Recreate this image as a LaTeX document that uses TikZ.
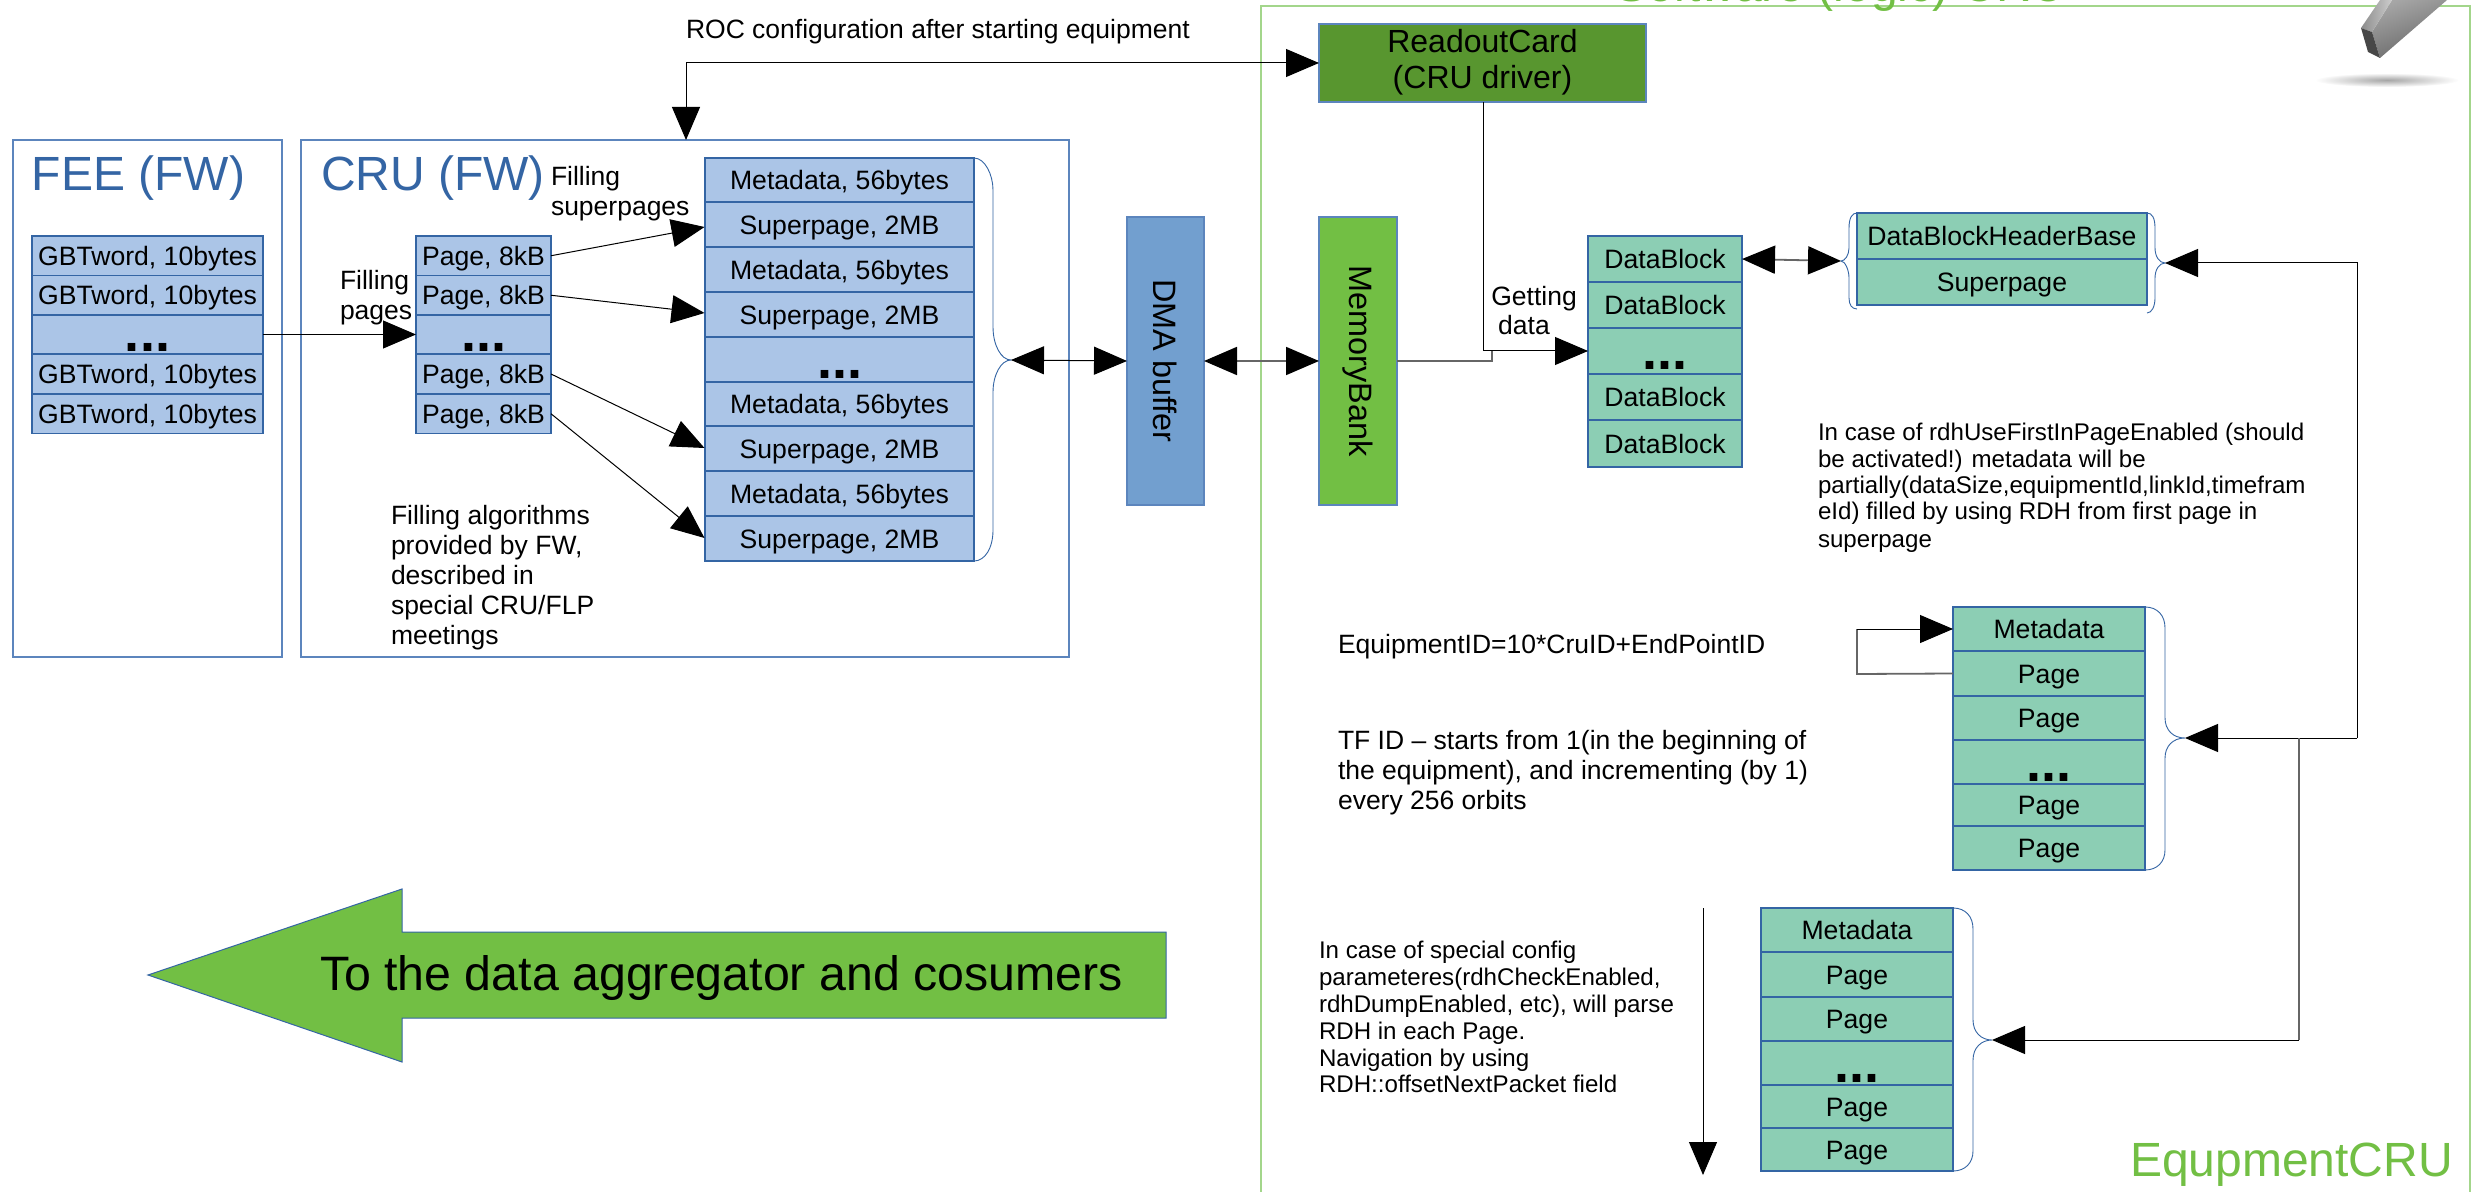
\documentclass[tikz,border=0pt]{standalone}
\usepackage{fontspec}
\setmainfont{Liberation Sans}
\usetikzlibrary{arrows.meta,calc,shapes.geometric}
\definecolor{lineblue}{HTML}{3465A4}
\definecolor{titleblue}{HTML}{3465A4}
\definecolor{fillblue}{HTML}{ABC5E7}
\definecolor{dmablue}{HTML}{729FCF}
\definecolor{frameblue}{HTML}{5C85BD}
\definecolor{limeg}{HTML}{72BF44}
\definecolor{darkg}{HTML}{58962F}
\definecolor{teal2}{HTML}{8CCEB4}
\definecolor{framegreen}{HTML}{A3D68B}
\newcommand{\fsz}[1]{\fontsize{#1}{#1}\selectfont}
\tikzset{
  x=0.5pt,y=-0.5pt,
  every node/.style={inner sep=0pt,outer sep=0pt,text=black},
  bl/.style={rectangle,draw=lineblue,minimum width=#1*0.5pt,align=center,text height=9.6pt,text depth=0pt},
  rowblue/.style={bl=#1,line width=0.55pt,fill=fillblue,font=\fsz{13.3}},
  rowblueT/.style={bl=#1,line width=1pt,fill=fillblue,font=\fsz{13.3}},
  rowteal/.style={bl=#1,line width=0.55pt,fill=teal2,font=\fsz{13.3}},
  rowtealT/.style={bl=#1,line width=1pt,fill=teal2,font=\fsz{13.3}},
  lbl/.style={anchor=base west,font=\fsz{13.25},align=left},
  small/.style={lbl,font=\fsz{12.05}},
  dotstxt/.style={anchor=base,font=\fsz{27}\bfseries},
  brace/.style={draw=lineblue,line width=0.45pt},
  conn/.style={draw=black,line width=0.5pt},
  conng/.style={draw=black!60,line width=0.9pt},
  tip/.style={-{Triangle[length=16.5pt,width=14pt,black]}},
  tips/.style={{Triangle[length=16.5pt,width=14pt,black]}-{Triangle[length=16.5pt,width=14pt,black]}},
  titl/.style={anchor=base west,text=titleblue,font=\fsz{24}},
}
% row: name, center x, top y, bottom y, width, style, text
\newcommand{\rowbox}[7]{\node[#6=#5,minimum height={(#4-#3)*0.5pt}] (#1) at (#2,{(#3+#4)/2}) {#7};}
\begin{document}
\begin{tikzpicture}
\useasboundingbox (0,0) rectangle (2472,1192);
\clip (0,0) rectangle (2472,1192);
\fill[white] (0,0) rectangle (2472,1192);

% frames
\node[draw=frameblue,line width=0.6pt,minimum width=134.5pt,minimum height=258.5pt,anchor=north west] (fee) at (13,140) {};
\node[draw=frameblue,line width=0.6pt,minimum width=384pt,minimum height=258.5pt,anchor=north west] (cru) at (301,140) {};
\node[draw=framegreen,line width=0.7pt,minimum width=604.5pt,minimum height=620pt,anchor=north west] (eq) at (1261,6) {};
\node[anchor=base west,text=limeg,font=\fsz{24}] (eqtop) at (1615,2) {Software (logic) CRU};
\node[anchor=base west,text=limeg,font=\fsz{24}] (eqname) at (2130,1176) {EqupmentCRU};

% pencil
\shade[left color=black!35,right color=black!60,shading angle=20] (2380,58) -- (2372,32) -- (2392,0) -- (2447,0) -- cycle;
\shade[left color=black!45,right color=black!20] (2372,32) -- (2361,28) -- (2380,0) -- (2392,0) -- cycle;
\fill[black!72] (2380,58) -- (2372,32) -- (2361,28) -- (2368,52) -- cycle;
\shade[inner color=black!35,outer color=white] (2387,80) ellipse (72 and 7);

\node[titl] (feet) at (32,191) {FEE (FW)};
\node[titl] (crut) at (321,191) {CRU (FW)};

% GBT stack
\rowbox{g1}{147.5}{236}{275.5}{231}{rowblue}{GBTword, 10bytes}
\rowbox{g2}{147.5}{275.5}{315}{231}{rowblue}{GBTword, 10bytes}
\rowbox{g3}{147.5}{315}{354}{231}{rowblue}{}
\rowbox{g4}{147.5}{354}{394}{231}{rowblue}{GBTword, 10bytes}
\rowbox{g5}{147.5}{394}{433.5}{231}{rowblue}{GBTword, 10bytes}
\node[dotstxt] (gd) at (147.5,352) {...};

% Page stack
\rowbox{p1}{483.5}{236}{275.5}{135}{rowblue}{Page, 8kB}
\rowbox{p2}{483.5}{275.5}{315}{135}{rowblue}{Page, 8kB}
\rowbox{p3}{483.5}{315}{354}{135}{rowblue}{}
\rowbox{p4}{483.5}{354}{394}{135}{rowblue}{Page, 8kB}
\rowbox{p5}{483.5}{394}{433.5}{135}{rowblue}{Page, 8kB}
\node[dotstxt] (pd) at (483.5,352) {...};

% Super stack
\rowbox{s1}{839.5}{158}{202}{269}{rowblueT}{Metadata, 56bytes}
\rowbox{s2}{839.5}{202}{247}{269}{rowblueT}{Superpage, 2MB}
\rowbox{s3}{839.5}{247}{292}{269}{rowblueT}{Metadata, 56bytes}
\rowbox{s4}{839.5}{292}{337}{269}{rowblueT}{Superpage, 2MB}
\rowbox{s5}{839.5}{337}{382}{269}{rowblueT}{}
\rowbox{s6}{839.5}{382}{426}{269}{rowblueT}{Metadata, 56bytes}
\rowbox{s7}{839.5}{426}{471}{269}{rowblueT}{Superpage, 2MB}
\rowbox{s8}{839.5}{471}{516}{269}{rowblueT}{Metadata, 56bytes}
\rowbox{s9}{839.5}{516}{561}{269}{rowblueT}{Superpage, 2MB}
\node[dotstxt] (sd) at (839.5,379) {...};

% DMA, memory, readout
\node[draw=frameblue,line width=0.6pt,fill=dmablue,minimum width=38.5pt,minimum height=144pt] (dma) at (1165.5,361) {};
\node[rotate=-90,font=\fsz{16.2}] (dmat) at (1165.5,361) {DMA buffer};
\node[draw=frameblue,line width=0.6pt,fill=limeg,minimum width=39pt,minimum height=144pt] (mem) at (1358,361) {};
\node[rotate=-90,font=\fsz{16.2}] (memt) at (1358,361) {MemoryBank};
\node[draw=frameblue,line width=0.6pt,fill=darkg,minimum width=163.5pt,minimum height=39pt] (roc) at (1482.5,63) {};
\node[font=\fsz{16},anchor=base] (roc1) at (1482.5,53) {ReadoutCard};
\node[font=\fsz{16},anchor=base] (roc2) at (1482.5,89) {(CRU driver)};

% DataBlock stack
\rowbox{d1}{1665}{236}{282}{154}{rowteal}{DataBlock}
\rowbox{d2}{1665}{282}{328}{154}{rowteal}{DataBlock}
\rowbox{d3}{1665}{328}{374}{154}{rowteal}{}
\rowbox{d4}{1665}{374}{420}{154}{rowteal}{DataBlock}
\rowbox{d5}{1665}{420}{467}{154}{rowteal}{DataBlock}
\node[dotstxt] (dd) at (1665,370) {...};

% Header
\rowbox{h1}{2002}{213}{259}{290}{rowteal}{DataBlockHeaderBase}
\rowbox{h2}{2002}{259}{305}{290}{rowteal}{Superpage}

% Meta stack 1
\rowbox{ma}{2049}{607}{651}{192}{rowtealT}{Metadata}
\rowbox{mb}{2049}{651}{696}{192}{rowtealT}{Page}
\rowbox{mc}{2049}{696}{740}{192}{rowtealT}{Page}
\rowbox{md}{2049}{740}{784}{192}{rowtealT}{}
\rowbox{me}{2049}{784}{826}{192}{rowtealT}{Page}
\rowbox{mf}{2049}{826}{870}{192}{rowtealT}{Page}
\node[dotstxt] (mdd) at (2049,781) {...};

% Meta stack 2
\rowbox{na}{1857}{908}{952}{192}{rowtealT}{Metadata}
\rowbox{nb}{1857}{952}{997}{192}{rowtealT}{Page}
\rowbox{nc}{1857}{997}{1041}{192}{rowtealT}{Page}
\rowbox{nd}{1857}{1041}{1085}{192}{rowtealT}{}
\rowbox{ne}{1857}{1085}{1128}{192}{rowtealT}{Page}
\rowbox{nf}{1857}{1128}{1171}{192}{rowtealT}{Page}
\node[dotstxt] (ndd) at (1857,1082) {...};

% braces
\coordinate (btS) at (1011,360);
\draw[brace] (s1.north east) .. controls (985,158) and (993,175) .. (993,190) -- (993,327) .. controls (993,345) and (1001,360) .. (btS) .. controls (1001,360) and (993,375) .. (993,392) -- (993,530) .. controls (993,548) and (985,561) .. (s9.south east);
\coordinate (btL) at (1841,261);
\draw[brace] (1857,213) .. controls (1852,213) and (1849,218) .. (1849,228) -- (1849,248) .. controls (1849,255) and (1845,261) .. (btL) .. controls (1845,261) and (1849,270) .. (1849,278) -- (1849,298) .. controls (1849,305) and (1852,309) .. (1857,309);
\coordinate (btR) at (2165,263);
\draw[brace] (2147,213) .. controls (2152,213) and (2155,218) .. (2155,228) -- (2155,248) .. controls (2155,256) and (2159,263) .. (btR) .. controls (2159,263) and (2155,270) .. (2155,278) -- (2155,298) .. controls (2155,306) and (2152,313) .. (2147,313);
\coordinate (btM) at (2185,738);
\draw[brace] (ma.north east) .. controls (2157,607) and (2165,615) .. (2165,628) -- (2165,718) .. controls (2165,730) and (2173,738) .. (btM) .. controls (2173,738) and (2165,746) .. (2165,758) -- (2165,850) .. controls (2165,862) and (2157,870) .. (mf.south east);
\coordinate (btN) at (1992,1040);
\draw[brace] (na.north east) .. controls (1965,908) and (1973,916) .. (1973,929) -- (1973,1020) .. controls (1973,1032) and (1981,1040) .. (btN) .. controls (1981,1040) and (1973,1048) .. (1973,1060) -- (1973,1151) .. controls (1973,1163) and (1965,1171) .. (nf.south east);

% connectors
\draw[conn,tip] (g3.east) -- (p3.west);
\draw[conn,tip] (p1.east) -- (704.5,227);
\draw[conn,tip] (p2.east) -- (704.5,313);
\draw[conn,tip] (p4.east) -- (704.5,448);
\draw[conn,tip] (p5.east) -- (704.5,538);
\draw[conn,tips] (btS) -- (dma.west);
\draw[conng,tips] (dma.east) -- (mem.west);
\coordinate (rocTurn) at (686,63);
\draw[conn,tips] (686,140) -- (rocTurn) -- (roc.west);
\coordinate (j1) at (1492,361);
\coordinate (j2) at (1492,351);
\draw[conng] (mem.east) -- (j1) -- (j2);
\draw[conn,tip] (roc.south) ++(0.5,0) -- (1483,351) -- (1588,351);
\draw[conng,tips] (d1.east) -- (btL);
\coordinate (v1) at (2357,263);
\coordinate (v2) at (2357,738);
\draw[conn,tip] (v2) -- (v1) -- (btR);
\draw[conn,tip] (v2) -- (btM);
\coordinate (w1) at (2299,738);
\coordinate (w2) at (2299,1040);
\draw[conng] (w1) -- (w2);
\draw[conn,tip] (w2) -- (btN);
\coordinate (lp1) at (1857,674);
\coordinate (lp2) at (1857,629);
\draw[conng] (mb.west) -- (lp1) -- (lp2);
\draw[conn,tip] (lp2) -- (ma.west);
\coordinate (dn1) at (1703,908);
\coordinate (dn2) at (1703,1175);
\draw[conn,tip] (dn1) -- (dn2);

% big arrow
\draw[draw=lineblue,line width=0.5pt,fill=limeg] (148,975) -- (402,889) -- (402,932) -- (1166,932) -- (1166,1018) -- (402,1018) -- (402,1062) -- cycle;
\node[anchor=base west,font=\fsz{24.15}] (bigt) at (320,990) {To the data aggregator and cosumers};

% labels
\node[lbl] (t1) at (686,39) {ROC configuration after starting equipment};
\node[lbl] (t2a) at (551,186) {Filling};
\node[lbl] (t2b) at (551,216) {superpages};
\node[lbl] (t3a) at (340,290) {Filling};
\node[lbl] (t3b) at (340,320) {pages};
\node[lbl] (t4a) at (391,524) {Filling algorithms};
\node[lbl] (t4b) at (391,554) {provided by FW,};
\node[lbl] (t4c) at (391,584) {described in};
\node[lbl] (t4d) at (391,614) {special CRU/FLP};
\node[lbl] (t4e) at (391,644) {meetings};
\node[anchor=base,font=\fsz{13.25}] (t5a) at (1534,306) {Getting};
\node[anchor=base,font=\fsz{13.25}] (t5b) at (1524,335) {data};
\node[lbl] (t6) at (1338,653) {EquipmentID=10*CruID+EndPointID};
\node[lbl] (t7a) at (1338,749) {TF ID – starts from 1(in the beginning of};
\node[lbl] (t7b) at (1338,779) {the equipment), and incrementing (by 1)};
\node[lbl] (t7c) at (1338,809) {every 256 orbits};
\node[small] (t8a) at (1319,958) {In case of special config};
\node[small] (t8b) at (1319,985) {parameteres(rdhCheckEnabled,};
\node[small] (t8c) at (1319,1012) {rdhDumpEnabled, etc), will parse};
\node[small] (t8d) at (1319,1039) {RDH in each Page.};
\node[small] (t8e) at (1319,1066) {Navigation by using};
\node[small] (t8f) at (1319,1092) {RDH::offsetNextPacket field};
\node[small] (t9a) at (1818,440) {In case of rdhUseFirstInPageEnabled (should};
\node[small] (t9b) at (1818,467) {be activated!) metadata will be};
\node[small] (t9c) at (1818,493) {partially(dataSize,equipmentId,linkId,timefram};
\node[small] (t9d) at (1818,519) {eId) filled by using RDH from first page in};
\node[small] (t9e) at (1818,547) {superpage};
\end{tikzpicture}
\end{document}
